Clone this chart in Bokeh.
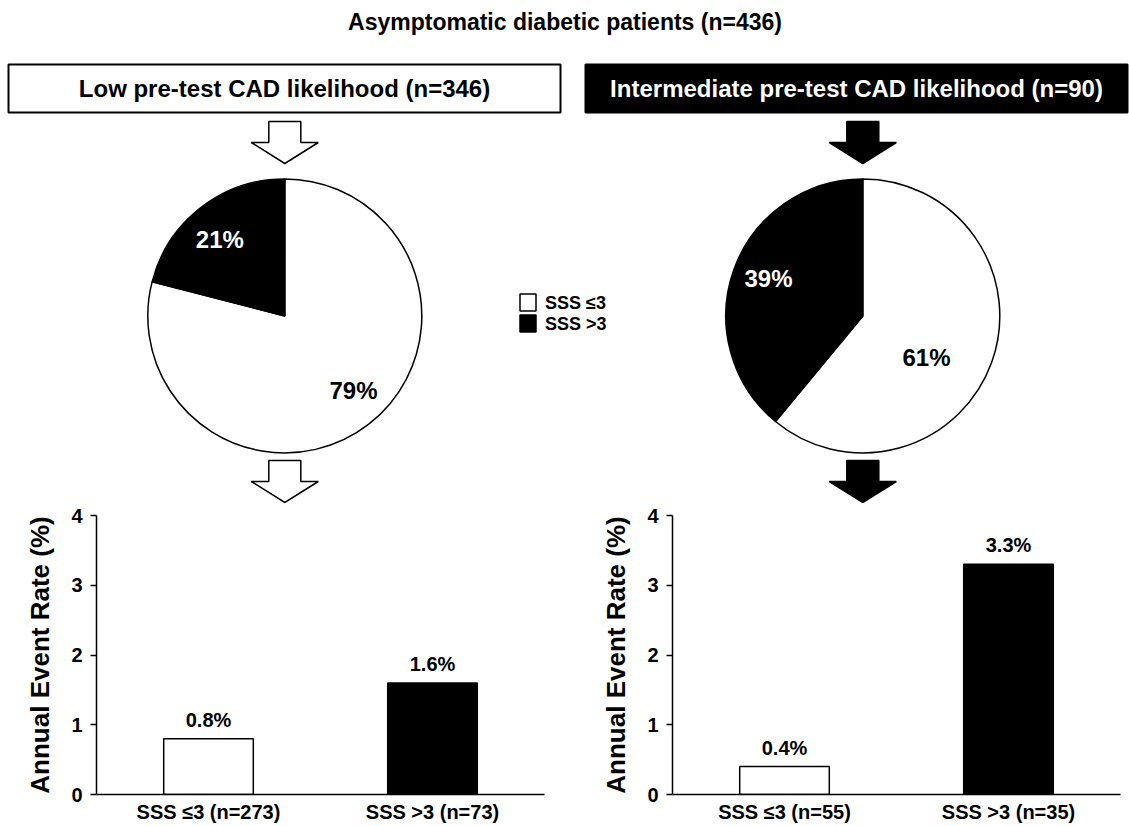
import math

from bokeh.core.properties import value
from bokeh.embed import file_html
from bokeh.layouts import column, row
from bokeh.models import ColumnDataSource, FactorRange, FixedTicker, LabelSet, Range1d
from bokeh.plotting import figure
from bokeh.resources import INLINE

# ---------------- data ----------------
title_text = "Asymptomatic diabetic patients (n=436)"
group_names = ["Low pre-test CAD likelihood (n=346)",
               "Intermediate pre-test CAD likelihood (n=90)"]
legend_labels = ["SSS \u22643", "SSS >3"]

# pie shares (%): [SSS <=3, SSS >3]
low_pie_pct = [79, 21]
int_pie_pct = [61, 39]

# annual event rates (%)
low_bar_cats = ["SSS \u22643 (n=273)", "SSS >3 (n=73)"]
low_bar_rates = [0.8, 1.6]
int_bar_cats = ["SSS \u22643 (n=55)", "SSS >3 (n=35)"]
int_bar_rates = [0.4, 3.3]

y_ticks = [0, 1, 2, 3, 4]
y_label = "Annual Event Rate (%)"

# ---------------- styling / layout ----------------
FONT_NAME = "Liberation Sans"
FONT = value(FONT_NAME)
W = 1129
TOP_H = 503
BOT_H = 826 - TOP_H
FRAME_TOP = 515 - TOP_H            # space above the bar frames
FILLS = ["white", "black"]        # SSS <=3, SSS >3


def sy(py):
    """Top panel uses a page-like coordinate system (y grows downward)."""
    return TOP_H - py


top = figure(width=W, height=TOP_H, x_range=Range1d(0, W), y_range=Range1d(0, TOP_H),
             x_axis_type=None, y_axis_type=None, toolbar_location=None,
             output_backend="svg", min_border=0)
top.grid.visible = False
top.outline_line_color = None
top.background_fill_color = "white"
top.border_fill_color = "white"

# title
top.text(x=[W / 2], y=[sy(21)], text=[title_text], text_font=FONT, text_font_style="bold",
         text_font_size="23px", text_align="center", text_baseline="middle", text_color="black")

# group header boxes
box_left = [8, 585]
box_right = [560, 1127]
box_top, box_bot = 64, 112
col_cx = [284.3, 862.3]
for i in range(2):
    top.quad(left=box_left[i], right=box_right[i], top=sy(box_top), bottom=sy(box_bot),
             fill_color=FILLS[i], line_color="black", line_width=2)
    top.text(x=[(box_left[i] + box_right[i]) / 2], y=[sy(88)], text=[group_names[i]],
             text_font=FONT, text_font_style="bold", text_font_size="24px",
             text_align="center", text_baseline="middle",
             text_color="black" if i == 0 else "white")


def arrow(cx, y0, fill):
    shaft_w, head_w, shaft_h, head_h = 32, 67, 21, 21
    xs = [cx - shaft_w / 2, cx + shaft_w / 2, cx + shaft_w / 2, cx + head_w / 2,
          cx, cx - head_w / 2, cx - shaft_w / 2]
    ys = [y0, y0, y0 + shaft_h, y0 + shaft_h, y0 + shaft_h + head_h, y0 + shaft_h, y0 + shaft_h]
    top.patch(x=xs, y=[sy(v) for v in ys], fill_color=fill, line_color="black", line_width=1.5)


for i in range(2):
    arrow(col_cx[i], 121, FILLS[i])
    arrow(col_cx[i], 460, FILLS[i])

# pies: the SSS >3 slice starts at 12 o'clock and runs anticlockwise
pie_cy = 315.4
pie_r = 137
pies = [low_pie_pct, int_pie_pct]
label_pos = [[(68.7, 74.2), (-65.0, -76.8)],      # offsets from centre (px, y down)
             [(63.7, 41.7), (-94.3, -37.0)]]
for i, pct in enumerate(pies):
    start = math.pi / 2
    split = start + 2 * math.pi * pct[1] / 100.0
    top.wedge(x=[col_cx[i]], y=[sy(pie_cy)], radius=pie_r, start_angle=split,
              end_angle=start + 2 * math.pi, fill_color="white", line_color="black",
              line_width=1.5)
    top.wedge(x=[col_cx[i]], y=[sy(pie_cy)], radius=pie_r, start_angle=start,
              end_angle=split, fill_color="black", line_color="black", line_width=1.5)
    for k in range(2):
        dx, dy = label_pos[i][k]
        top.text(x=[col_cx[i] + dx], y=[sy(pie_cy + dy)], text=[f"{pct[k]}%"],
                 text_font=FONT, text_font_style="bold", text_font_size="24px",
                 text_align="center", text_baseline="middle",
                 text_color="black" if k == 0 else "white")

# legend
leg_x, leg_y, leg_gap = 527.5, 302, 21
for k in range(2):
    top.rect(x=[leg_x], y=[sy(leg_y + k * leg_gap)], width=16, height=17,
             fill_color=FILLS[k], line_color="black", line_width=1.5)
    top.text(x=[leg_x + 17], y=[sy(leg_y + k * leg_gap)], text=[legend_labels[k]],
             text_font=FONT, text_font_style="bold", text_font_size="18px",
             text_align="left", text_baseline="middle", text_color="black")


def bar_chart(cats, rates, width, left, right):
    p = figure(width=width, height=BOT_H, x_range=FactorRange(*cats), y_range=Range1d(0, 4),
               toolbar_location=None, output_backend="svg",
               min_border_left=left, min_border_right=right,
               min_border_top=FRAME_TOP, min_border_bottom=32)
    p.grid.visible = False
    p.outline_line_color = None
    src = ColumnDataSource(dict(cat=cats, rate=rates, fill=FILLS,
                                lab=[f"{r}%" for r in rates]))
    p.vbar(x="cat", top="rate", bottom=0, width=0.4, fill_color="fill",
           line_color="black", line_width=1.5, source=src)
    p.add_layout(LabelSet(x="cat", y="rate", text="lab", source=src, y_offset=8,
                          text_align="center", text_baseline="bottom",
                          text_font=FONT, text_font_style="bold",
                          text_font_size="20px", text_color="black"))

    ya = p.yaxis[0]
    ya.ticker = FixedTicker(ticks=y_ticks)
    ya.axis_label = y_label
    ya.axis_label_text_font = FONT_NAME
    ya.axis_label_text_font_style = "bold"
    ya.axis_label_text_font_size = "26px"
    ya.axis_label_text_color = "black"
    ya.axis_label_standoff = 13
    ya.major_label_text_font = FONT_NAME
    ya.major_label_text_font_style = "bold"
    ya.major_label_text_font_size = "20px"
    ya.major_label_text_color = "black"
    ya.major_label_standoff = 8
    ya.major_tick_out = 6
    ya.major_tick_in = 0
    ya.minor_tick_line_color = None
    ya.axis_line_color = "black"
    ya.major_tick_line_color = "black"
    ya.axis_line_width = 1.5
    ya.major_tick_line_width = 1.5

    xa = p.xaxis[0]
    xa.major_label_text_font = FONT_NAME
    xa.major_label_text_font_style = "bold"
    xa.major_label_text_font_size = "20px"
    xa.major_label_text_color = "black"
    xa.major_label_standoff = 6
    xa.major_tick_line_color = None
    xa.major_tick_out = 0
    xa.major_tick_in = 0
    xa.axis_line_color = "black"
    xa.axis_line_width = 1.5
    return p


left_bars = bar_chart(low_bar_cats, low_bar_rates, 564, 96, 20)
right_bars = bar_chart(int_bar_cats, int_bar_rates, 565, 108, 9)

page = column(top, row(left_bars, right_bars))

with open("out.html", "w") as f:
    f.write(file_html(page, INLINE))
